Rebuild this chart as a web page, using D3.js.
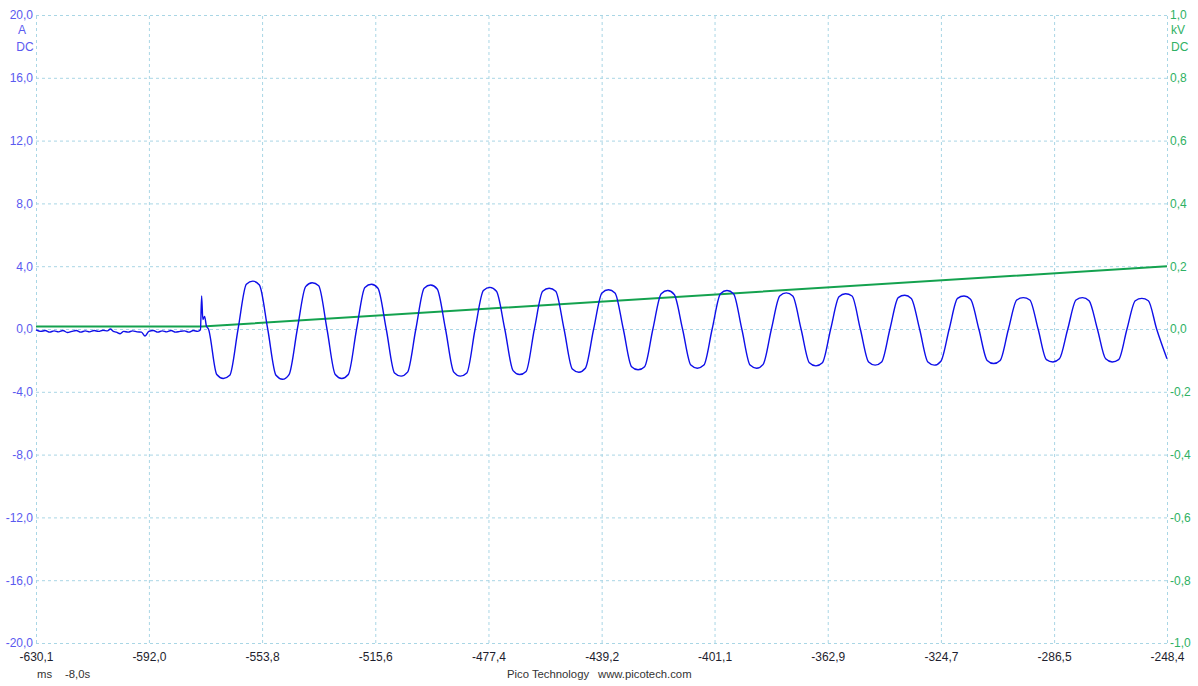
<html>
<head>
<style>
  body { margin: 0; background: #ffffff; }
  .grid line { stroke: #a9d6e5; stroke-dasharray: 3,3; stroke-width: 1; }
  .grid path { display: none; }
  .axis text { font-family: "Liberation Sans", Arial, sans-serif; font-size: 12px; }
  .axis path, .axis line { display: none; }
  .leftAxis text { fill: #5a5af0; }
  .rightAxis text { fill: #2fb163; }
  .bottomAxis text { fill: #1e1e2e; }
  .note { font-family: "Liberation Sans", Arial, sans-serif; font-size: 12px; }
  .footer { font-family: "Liberation Sans", Arial, sans-serif; font-size: 11.3px; fill: #333; }
</style>
</head>
<body>
<svg id="scope" width="1198" height="686"></svg>
<script src="https://d3js.org/d3.v7.min.js"></script>
<script>
// tick labels
const xTicks = [-630.1, -592.0, -553.8, -515.6, -477.4, -439.2, -401.1, -362.9, -324.7, -286.5, -248.4]
const ampTicks = [20, 16, 12, 8, 4, 0, -4, -8, -12, -16, -20]
const kvTicks = [1.0, 0.8, 0.6, 0.4, 0.2, 0.0, -0.2, -0.4, -0.6, -0.8, -1.0]

// current (A) before the trigger: [ms, A]
const preTrigger = [
  [-630.1, -0.05], [-628.5, -0.15], [-627.0, -0.1], [-625.5, -0.2], [-624.0, -0.12],
  [-622.5, -0.18], [-621.0, -0.1], [-619.5, -0.22], [-618.0, -0.15], [-616.5, -0.1],
  [-615.0, -0.2], [-613.5, -0.12], [-612.0, -0.18], [-610.5, -0.1], [-609.0, -0.15],
  [-607.5, -0.08], [-606.0, -0.12], [-605.0, 0.0], [-604.0, -0.15], [-603.0, -0.2],
  [-601.7, -0.3], [-600.5, -0.15], [-599.0, -0.2], [-597.5, -0.12], [-596.0, -0.18],
  [-594.5, -0.2], [-593.3, -0.45], [-592.0, -0.15], [-590.5, -0.1], [-589.0, -0.2],
  [-587.5, -0.12], [-586.0, -0.18], [-584.5, -0.1], [-583.0, -0.2], [-581.5, -0.15],
  [-580.0, -0.12], [-578.5, -0.2], [-577.0, -0.1], [-575.5, -0.15], [-574.6, -0.05],
  [-574.2, 2.1], [-573.8, 0.6], [-573.2, 0.8], [-572.6, 0.2]
]

// current (A) after the trigger, 50 Hz oscillation: [ms, A]
const wave = [
  [-571.9, 0], [-569.1, -2.9], [-566.9, -3.15], [-564.7, -2.95], [-561.9, 0], [-559.1, 2.85], [-556.9, 3.05], [-554.7, 2.8],
  [-551.9, 0], [-549.1, -2.95], [-546.9, -3.2], [-544.7, -2.9], [-541.9, 0], [-539.1, 2.7], [-536.9, 2.95], [-534.7, 2.75],
  [-531.9, 0], [-529.1, -2.9], [-526.9, -3.15], [-524.7, -2.9], [-521.9, 0], [-519.1, 2.65], [-516.9, 2.85], [-514.7, 2.6],
  [-511.9, 0], [-509.1, -2.8], [-506.9, -3.0], [-504.7, -2.75], [-501.9, 0], [-499.1, 2.6], [-496.9, 2.8], [-494.7, 2.55],
  [-491.9, 0], [-489.1, -2.75], [-486.9, -3.0], [-484.7, -2.8], [-481.9, 0], [-479.1, 2.45], [-476.9, 2.65], [-474.7, 2.4],
  [-471.9, 0], [-469.1, -2.65], [-466.9, -2.9], [-464.7, -2.7], [-461.9, 0], [-459.1, 2.4], [-456.9, 2.6], [-454.7, 2.4],
  [-451.9, 0], [-449.1, -2.55], [-446.9, -2.75], [-444.7, -2.5], [-441.9, 0], [-439.1, 2.3], [-436.9, 2.5], [-434.7, 2.3],
  [-431.9, 0], [-429.1, -2.4], [-426.9, -2.6], [-424.7, -2.4], [-421.9, 0], [-419.1, 2.25], [-416.9, 2.45], [-414.7, 2.2],
  [-411.9, 0], [-409.1, -2.3], [-406.9, -2.5], [-404.7, -2.3], [-401.9, 0], [-399.1, 2.25], [-396.9, 2.45], [-394.7, 2.25],
  [-391.9, 0], [-389.1, -2.3], [-386.9, -2.5], [-384.7, -2.25], [-381.9, 0], [-379.1, 2.1], [-376.9, 2.3], [-374.7, 2.1],
  [-371.9, 0], [-369.1, -2.15], [-366.9, -2.35], [-364.7, -2.15], [-361.9, 0], [-359.1, 2.05], [-356.9, 2.25], [-354.7, 2.1],
  [-351.9, 0], [-349.1, -2.1], [-346.9, -2.3], [-344.7, -2.1], [-341.9, 0], [-339.1, 2.0], [-336.9, 2.15], [-334.7, 1.95],
  [-331.9, 0], [-329.1, -2.1], [-326.9, -2.3], [-324.7, -2.05], [-321.9, 0], [-319.1, 1.95], [-316.9, 2.1], [-314.7, 1.9],
  [-311.9, 0], [-309.1, -2.0], [-306.9, -2.2], [-304.7, -2.0], [-301.9, 0], [-299.1, 1.85], [-296.9, 2.0], [-294.7, 1.85],
  [-291.9, 0], [-289.1, -1.95], [-286.9, -2.1], [-284.7, -1.9], [-281.9, 0], [-279.1, 1.85], [-276.9, 2.0], [-274.7, 1.8],
  [-271.9, 0], [-269.1, -1.9], [-266.9, -2.1], [-264.7, -1.95], [-261.9, 0], [-259.1, 1.8], [-256.9, 1.95], [-254.7, 1.8],
  [-251.9, 0], [-248.4, -1.9]
]

// voltage (kV): [ms, kV]
const voltage = [[-630.1, 0.008], [-574.0, 0.008], [-248.4, 0.2]]

let plotLeft = 36, plotRight = 1167, plotTop = 15, plotBottom = 643

let svg = d3.select("#scope")
let fmt = d3.formatLocale({decimal: ",", thousands: ".", grouping: [3], currency: ["", ""], minus: "-"}).format(".1f")

let xScale = d3.scaleLinear().domain([-630.1, -248.4]).range([plotLeft, plotRight])
let yAmp = d3.scaleLinear().domain([-20, 20]).range([plotBottom, plotTop])
let yKv = d3.scaleLinear().domain([-1, 1]).range([plotBottom, plotTop])

// dashed grid
svg.append("g")
  .attr("class", "grid")
  .attr("transform", "translate(0," + plotBottom + ")")
  .call(d3.axisBottom(xScale).tickValues(xTicks).tickSize(-(plotBottom - plotTop)).tickFormat(""))
svg.append("g")
  .attr("class", "grid")
  .attr("transform", "translate(" + plotLeft + ",0)")
  .call(d3.axisLeft(yAmp).tickValues(ampTicks).tickSize(-(plotRight - plotLeft)).tickFormat(""))

// axis labels
svg.append("g")
  .attr("class", "axis leftAxis")
  .attr("transform", "translate(" + plotLeft + ",0)")
  .call(d3.axisLeft(yAmp).tickValues(ampTicks).tickSize(0).tickPadding(3).tickFormat(fmt))
svg.append("g")
  .attr("class", "axis rightAxis")
  .attr("transform", "translate(" + plotRight + ",0)")
  .call(d3.axisRight(yKv).tickValues(kvTicks).tickSize(0).tickPadding(3).tickFormat(fmt))
svg.append("g")
  .attr("class", "axis bottomAxis")
  .attr("transform", "translate(0," + plotBottom + ")")
  .call(d3.axisBottom(xScale).tickValues(xTicks).tickSize(0).tickPadding(9).tickFormat(fmt))

// unit labels
svg.append("text").attr("class", "note").attr("x", 22).attr("y", 34).attr("text-anchor", "middle").attr("fill", "#5a5af0").text("A")
svg.append("text").attr("class", "note").attr("x", 25).attr("y", 51).attr("text-anchor", "middle").attr("fill", "#5a5af0").text("DC")
svg.append("text").attr("class", "note").attr("x", 1171).attr("y", 34).attr("fill", "#2fb163").text("kV")
svg.append("text").attr("class", "note").attr("x", 1171).attr("y", 51).attr("fill", "#2fb163").text("DC")

svg.append("text").attr("class", "footer").attr("x", 37).attr("y", 678).text("ms")
svg.append("text").attr("class", "footer").attr("x", 65).attr("y", 678).text("-8,0s")
svg.append("text").attr("class", "footer").attr("x", 507).attr("y", 678).text("Pico Technology")
svg.append("text").attr("class", "footer").attr("x", 598).attr("y", 678).text("www.picotech.com")

// voltage trace
let voltLine = d3.line()
  .x(d => xScale(d[0]))
  .y(d => yKv(d[1]))
svg.append("path")
  .datum(voltage)
  .attr("d", voltLine)
  .attr("fill", "none")
  .attr("stroke", "#14a24f")
  .attr("stroke-width", 2)

// current trace
let ampLine = d3.line()
  .curve(d3.curveMonotoneX)
  .x(d => xScale(d[0]))
  .y(d => yAmp(d[1]))
svg.append("path")
  .datum(preTrigger.concat(wave))
  .attr("d", ampLine)
  .attr("fill", "none")
  .attr("stroke", "#0f0fe8")
  .attr("stroke-width", 1.4)
  .attr("stroke-linejoin", "round")
</script>
</body>
</html>
